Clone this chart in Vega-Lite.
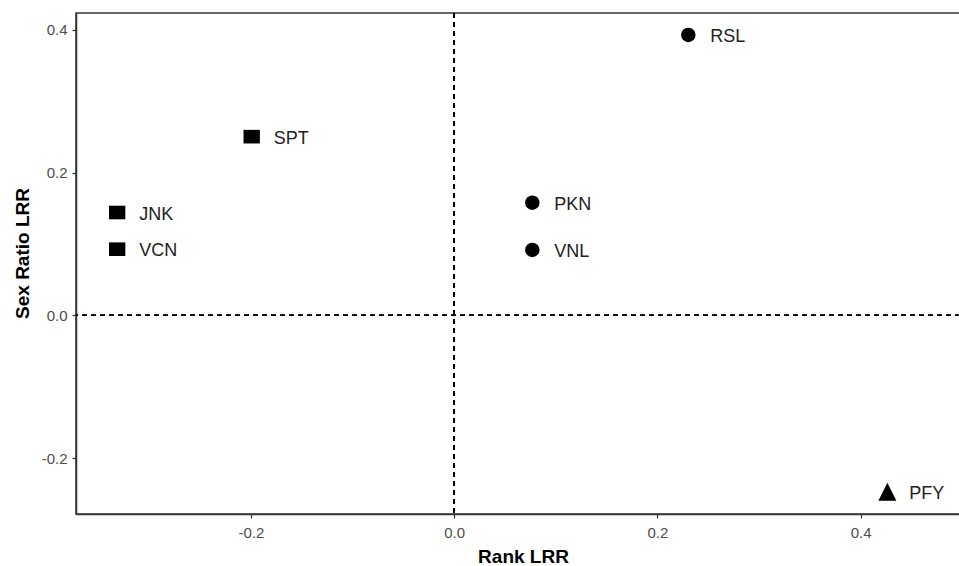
{
  "$schema": "https://vega.github.io/schema/vega-lite/v6.json",
  "width": 884,
  "height": 501,
  "autosize": {"type": "none"},
  "padding": {"left": 76, "top": 13, "right": 0, "bottom": 52},
  "background": "white",
  "config": {
    "view": {"stroke": "#333333", "strokeWidth": 1.5},
    "font": "Liberation Sans",
    "axis": {
      "grid": false,
      "domainColor": "#333333",
      "domainWidth": 1.5,
      "tickColor": "#333333",
      "tickWidth": 1.2,
      "tickSize": 4,
      "labelColor": "#4d4d4d",
      "labelFontSize": 15,
      "labelFont": "Liberation Sans",
      "titleFont": "Liberation Sans",
      "titleFontSize": 19,
      "titleFontWeight": "bold",
      "titleColor": "#000000"
    }
  },
  "data": {
    "values": [
      {"site": "RSL", "rank": 0.2304, "sex": 0.393, "group": "circle"},
      {"site": "PKN", "rank": 0.0769, "sex": 0.158, "group": "circle"},
      {"site": "VNL", "rank": 0.0769, "sex": 0.0917, "group": "circle"},
      {"site": "SPT", "rank": -0.1993, "sex": 0.2505, "group": "square"},
      {"site": "JNK", "rank": -0.3317, "sex": 0.1442, "group": "square"},
      {"site": "VCN", "rank": -0.3317, "sex": 0.0928, "group": "square"},
      {"site": "PFY", "rank": 0.4263, "sex": -0.2471, "group": "triangle"}
    ]
  },
  "layer": [
    {
      "mark": {"type": "rule", "strokeDash": [5, 4], "strokeWidth": 1.4, "color": "#000000"},
      "encoding": {"x": {"datum": 0, "type": "quantitative", "scale": {"domain": [-0.3722, 0.4978], "nice": false, "zero": false}}}
    },
    {
      "mark": {"type": "rule", "strokeDash": [5, 4], "strokeWidth": 1.4, "color": "#000000"},
      "encoding": {"y": {"datum": 0, "type": "quantitative"}}
    },
    {
      "mark": {"type": "point", "filled": true, "opacity": 1, "color": "#000000", "strokeWidth": 0},
      "encoding": {
        "x": {
          "field": "rank", "type": "quantitative",
          "scale": {"domain": [-0.3722, 0.4978], "nice": false, "zero": false},
          "axis": {"values": [-0.2, 0, 0.2, 0.4], "labelExpr": "replace(format(datum.value, '.1f'), '\u2212', '-')", "title": "Rank LRR", "labelPadding": 7, "titleX": 447, "titleY": 42, "titleBaseline": "middle", "titleAlign": "center"}
        },
        "y": {
          "field": "sex", "type": "quantitative",
          "scale": {"domain": [-0.2783, 0.4238], "nice": false, "zero": false},
          "axis": {"values": [-0.2, 0, 0.2, 0.4], "labelExpr": "replace(format(datum.value, '.1f'), '\u2212', '-')", "title": "Sex Ratio LRR", "labelPadding": 5, "titleX": -54, "titleY": 240, "titleBaseline": "middle", "titleAlign": "center", "titleAngle": -90}
        },
        "shape": {
          "field": "group", "type": "nominal", "legend": null,
          "scale": {"domain": ["circle", "square", "triangle"], "range": ["circle", "M-1,-0.8333L1,-0.8333L1,0.8333L-1,0.8333Z", "M0,-1L1,1L-1,1Z"]}
        },
        "size": {
          "field": "group", "type": "nominal", "legend": null,
          "scale": {"domain": ["circle", "square", "triangle"], "range": [210, 324, 400]}
        }
      }
    },
    {
      "mark": {"type": "text", "align": "left", "baseline": "middle", "dx": 22, "dy": 2, "fontSize": 18, "color": "#222222", "font": "Liberation Sans"},
      "encoding": {
        "x": {"field": "rank", "type": "quantitative"},
        "y": {"field": "sex", "type": "quantitative"},
        "text": {"field": "site"}
      }
    }
  ]
}
